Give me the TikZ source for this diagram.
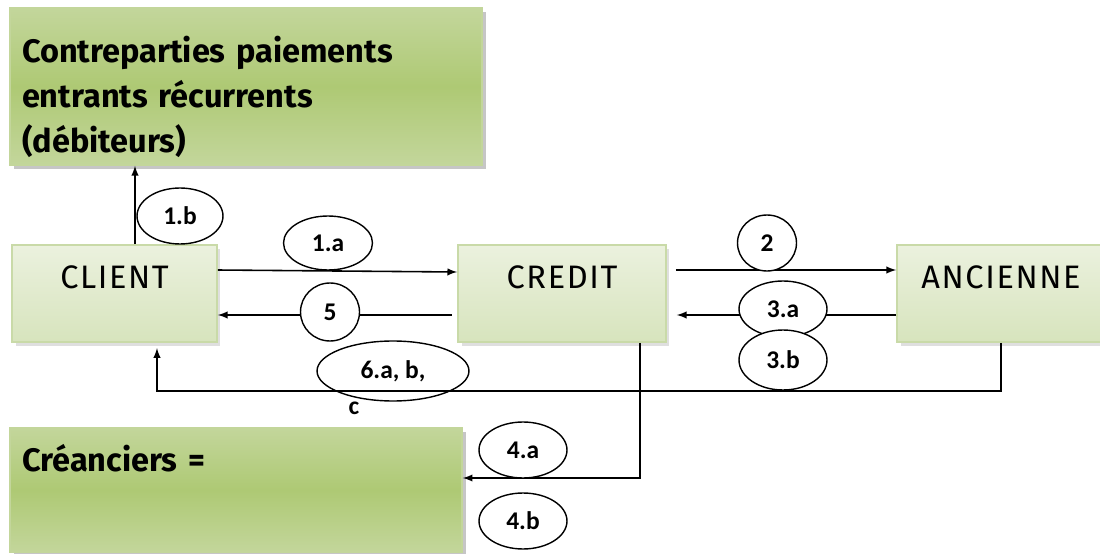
\documentclass[tikz,border=0pt]{standalone}
\usepackage{fontspec}
\setmainfont{Carlito}
\newfontfamily\boxfont{Fira Sans}
\newfontfamily\capsfont[LetterSpace=5]{Fira Sans}
\usetikzlibrary{shapes.geometric,shadows}

\definecolor{lightolive}{HTML}{EBF1DE}
\definecolor{paleolive}{HTML}{D7E4BD}
\definecolor{midolive}{HTML}{C3D69B}
\definecolor{deepolive}{HTML}{AEC974}
\definecolor{edgeolive}{HTML}{C9DAA8}

\begin{document}
\begin{tikzpicture}[x=0.02cm, y=-0.02cm,
  lightbox/.style={draw=edgeolive, line width=1pt, top color=lightolive, bottom color=paleolive,
    drop shadow={shadow xshift=2pt, shadow yshift=-2pt, opacity=0.25},
    minimum width=4.1cm, minimum height=1.94cm, font=\capsfont\fontsize{18.5}{20}\selectfont,
    text height=0.46cm, text depth=0.66cm},
  darkbox/.style={draw=midolive, line width=1pt, top color=midolive, bottom color=midolive, middle color=deepolive,
    drop shadow={shadow xshift=2.5pt, shadow yshift=-2.5pt, opacity=0.45},
    inner xsep=0.24cm, align=left, font=\boxfont\bfseries\fontsize{18.5}{25.5}\selectfont},
  tag/.style={draw, ellipse, line width=0.8pt, fill=white, inner sep=0pt, font=\bfseries\fontsize{14.5}{17}\selectfont},
  link/.style={line width=0.9pt, -latex}]
\useasboundingbox (0,0) rectangle (1100,554);

\node[darkbox, minimum width=9.44cm, minimum height=3.14cm, text width=8.96cm] (contre) at (246,86.5) {\rule{0pt}{0.95cm}Contreparties paiements\\entrants récurrents\\(débiteurs)};
\node[lightbox] (client) at (114.5,293.5) {CLIENT};
\node[lightbox, minimum width=4.16cm] (credit) at (562,293.5) {CREDIT};
\node[lightbox, minimum width=4.16cm] (ancienne) at (1001,293.5) {ANCIENNE};
\node[darkbox, minimum width=9.04cm, minimum height=2.48cm, text width=8.56cm, text height=0.48cm, text depth=1.22cm] (creanc) at (236,490) {Créanciers =};

\coordinate (up) at ([xshift=0.41cm]client.north);
\draw[link] (up) -- (up |- contre.south);
\draw[link] ([yshift=0.47cm]client.east) -- ([yshift=0.43cm]credit.west);
\draw[link] ([xshift=-3pt,yshift=-0.43cm]credit.west) -- ([yshift=-0.43cm]client.east);
\draw[link] ([xshift=0.18cm,yshift=0.47cm]credit.east) -- ([yshift=0.47cm]ancienne.west);
\draw[link] ([yshift=-0.43cm]ancienne.west) -- ([xshift=0.2cm,yshift=-0.43cm]credit.east);
\draw[link] (ancienne.south) -- ++(0,-0.96cm) -| ([xshift=0.85cm,yshift=-3pt]client.south);
\draw[link] ([xshift=1.56cm]credit.south) |- ([yshift=0.24cm]creanc.east);

\node[tag, minimum width=1.72cm, minimum height=1.12cm] (t1b) at (180,216) {1.b};
\node[tag, minimum width=1.78cm, minimum height=1.08cm] (t1a) at (328,243) {1.a};
\node[tag, minimum width=1.18cm, minimum height=1.16cm] (t5) at (330,312) {5};
\node[tag, minimum width=1.18cm, minimum height=1.12cm] (t2) at (767,243) {2};
\node[tag, minimum width=1.76cm, minimum height=1.12cm] (t3a) at (783,309) {3.a};
\node[tag, minimum width=1.76cm, minimum height=1.2cm] (t3b) at (783,360) {3.b};
\node[tag, fill=none, minimum width=3.04cm, minimum height=1.2cm] (t6) at (393,371) {6.a, b,};
\node[font=\bfseries\fontsize{14.5}{17}\selectfont] (t6c) at (354,408) {c};
\node[tag, minimum width=1.76cm, minimum height=1.12cm] (t4a) at (523,450) {4.a};
\node[tag, minimum width=1.76cm, minimum height=1.12cm] (t4b) at (523,521) {4.b};
\end{tikzpicture}
\end{document}
